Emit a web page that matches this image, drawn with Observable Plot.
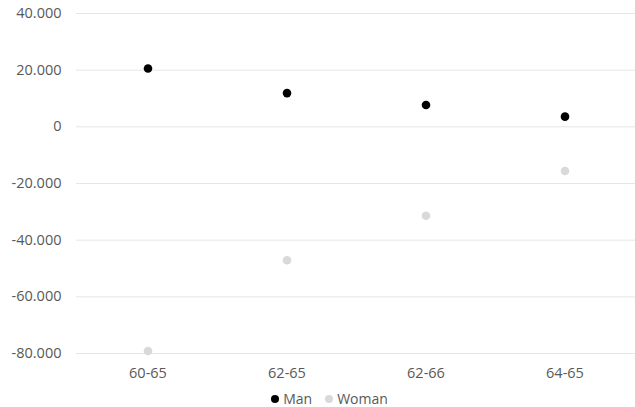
<!DOCTYPE html>
<html>
<head>
<meta charset="utf-8">
<script src="https://cdn.jsdelivr.net/npm/d3@7"></script>
<script src="https://cdn.jsdelivr.net/npm/@observablehq/plot@0.6"></script>
<style>
  html, body { margin: 0; padding: 0; background: #fff; }
  #chart { width: 635px; height: 407px; position: relative; font-family: "Open Sans", sans-serif; }
  #legend { position: absolute; left: 0; right: 0; top: 390px; display: flex; justify-content: center; gap: 13px;
            font-size: 14px; color: #595959; line-height: 18px; padding-left: 24px; }
  #legend span { display: inline-flex; align-items: center; }
  #legend i { display: inline-block; width: 8px; height: 8px; border-radius: 50%; margin-right: 4px; }
</style>
</head>
<body>
<div id="chart"></div>
<script>
// Age-range comparison: change per series
const categories = ["60-65", "62-65", "62-66", "64-65"];
const seriesNames = ["Man", "Woman"];
const seriesColors = ["#000000", "#d9d9d9"];
const man = [20600, 11900, 7700, 3600];
const woman = [-79100, -47100, -31400, -15600];
const yTicks = [-80000, -60000, -40000, -20000, 0, 20000, 40000];

const rows = [];
categories.forEach((c, i) => {
  rows.push({category: c, series: "Man", value: man[i]});
  rows.push({category: c, series: "Woman", value: woman[i]});
});

const fmt = d3.formatLocale({decimal: ",", thousands: ".", grouping: [3], currency: ["", ""], minus: "-"}).format(",");

const chart = Plot.plot({
  width: 635,
  height: 390,
  marginLeft: 76,
  marginRight: 0,
  marginTop: 13,
  marginBottom: 37,
  style: {fontFamily: "Open Sans, sans-serif", color: "#595959", background: "#fff"},
  x: {type: "band", domain: categories, padding: 0, label: null},
  y: {domain: [-80000, 40000], label: null},
  color: {domain: seriesNames, range: seriesColors},
  marks: [
    Plot.gridY(yTicks, {stroke: "#e6e6e6", strokeOpacity: 1, strokeWidth: 1}),
    Plot.axisY(yTicks, {tickSize: 0, tickPadding: 15, tickFormat: fmt, fill: "#595959", fontSize: 14.5}),
    Plot.axisX({tickSize: 0, tickPadding: 14, fill: "#595959", fontSize: 14.5}),
    Plot.dot(rows, {x: "category", y: "value", fill: "series", r: 4.3})
  ]
});

const root = document.getElementById("chart");
root.appendChild(chart);

const legend = document.createElement("div");
legend.id = "legend";
seriesNames.forEach((name, i) => {
  const s = document.createElement("span");
  const dot = document.createElement("i");
  dot.style.background = seriesColors[i];
  s.appendChild(dot);
  s.appendChild(document.createTextNode(name));
  legend.appendChild(s);
});
root.appendChild(legend);
</script>
</body>
</html>
